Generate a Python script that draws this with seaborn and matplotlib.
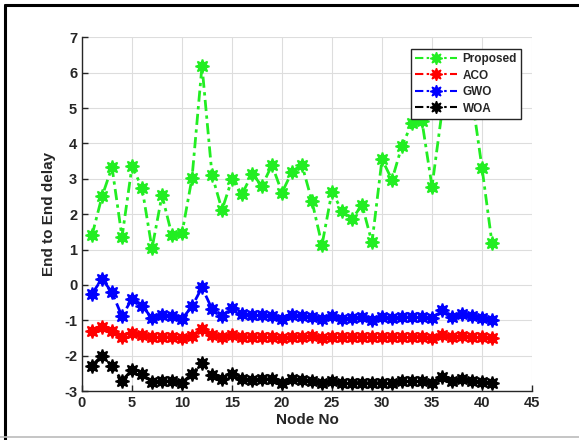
import numpy as np
import pandas as pd
import matplotlib
matplotlib.use("Agg")
import matplotlib.pyplot as plt
import seaborn as sns
from matplotlib.lines import Line2D

nodes = list(range(1, 42))
proposed = [1.40, 2.50, 3.33, 1.35, 3.35, 2.75, 1.03, 2.53, 1.40, 1.46,
            3.02, 6.19, 3.11, 2.12, 2.99, 2.56, 3.14, 2.80, 3.39, 2.61,
            3.20, 3.39, 2.36, 1.13, 2.64, 2.09, 1.86, 2.26, 1.20, 3.55,
            2.97, 3.94, 4.57, 4.62, 2.78, 4.90, 5.70, 6.00, 5.30, 3.31, 1.18]
aco = [-1.29, -1.19, -1.29, -1.47, -1.36, -1.41, -1.47, -1.47, -1.47, -1.50,
       -1.44, -1.25, -1.41, -1.47, -1.41, -1.46, -1.47, -1.47, -1.46, -1.50,
       -1.46, -1.46, -1.45, -1.50, -1.46, -1.47, -1.47, -1.47, -1.48, -1.47,
       -1.47, -1.46, -1.46, -1.46, -1.49, -1.43, -1.47, -1.45, -1.47, -1.47, -1.50]
gwo = [-0.25, 0.17, -0.21, -0.89, -0.39, -0.59, -0.94, -0.85, -0.89, -0.96,
       -0.61, -0.07, -0.68, -0.87, -0.66, -0.82, -0.86, -0.86, -0.87, -0.97,
       -0.86, -0.87, -0.92, -0.97, -0.89, -0.97, -0.94, -0.92, -0.99, -0.92,
       -0.94, -0.91, -0.91, -0.92, -0.95, -0.72, -0.91, -0.82, -0.89, -0.94, -0.99]
woa = [-2.28, -2.00, -2.28, -2.71, -2.40, -2.51, -2.75, -2.71, -2.73, -2.76,
       -2.52, -2.21, -2.54, -2.66, -2.51, -2.66, -2.68, -2.66, -2.66, -2.78,
       -2.66, -2.68, -2.73, -2.78, -2.73, -2.78, -2.76, -2.76, -2.78, -2.76,
       -2.76, -2.73, -2.73, -2.73, -2.76, -2.60, -2.71, -2.65, -2.71, -2.75, -2.78]
series_names = ["Proposed", "ACO", "GWO", "WOA"]
colors = ["#22ee22", "#ff0000", "#0000ff", "#000000"]

df = pd.concat([
    pd.DataFrame({"Node No": nodes, "delay": vals, "Method": name})
    for name, vals in zip(series_names, [proposed, aco, gwo, woa])
])

sns.set_style("white")
plt.rcParams['font.family'] = ['Liberation Sans', 'DejaVu Sans']
plt.rcParams['font.weight'] = 'bold'
plt.rcParams['axes.unicode_minus'] = False

fig = plt.figure(figsize=(5.79, 4.40), dpi=100)
ax = fig.add_axes([82/579, 1 - 391/440, (532-82)/579, (391-37.3)/440])

dash = (0, (4, 1.6, 1.2, 1.6))
sns.lineplot(data=df, x="Node No", y="delay", hue="Method", hue_order=series_names,
             palette=colors, ax=ax, legend=False, linewidth=2.0,
             marker=(8, 1, 0), markersize=10, markeredgewidth=1.2)
for ln in ax.lines:
    ln.set_linestyle(dash)
    ln.set_markeredgecolor(ln.get_color())

ax.set_xlim(0, 45)
ax.set_ylim(-3, 7)
ax.set_xticks(range(0, 46, 5))
ax.set_yticks(range(-3, 8))
ax.grid(True, color="#dddddd", linewidth=0.8)
for s in ["top", "right"]:
    ax.spines[s].set_visible(False)
for s in ["left", "bottom"]:
    ax.spines[s].set_color("#262626")
    ax.spines[s].set_linewidth(1.0)
ax.tick_params(direction="in", length=4, colors="#262626", labelsize=10.5,
               left=True, bottom=True, width=1.0)
for lab in ax.get_xticklabels() + ax.get_yticklabels():
    lab.set_fontweight("bold")
ax.set_xlabel("Node No", fontsize=11, fontweight="bold", color="#262626", labelpad=2)
ax.set_ylabel("End to End delay", fontsize=11, fontweight="bold", color="#262626", labelpad=6)

handles = [Line2D([], [], color=c, linestyle=dash, linewidth=1.5,
                  marker=(8, 1, 0), markersize=9, markeredgecolor=c)
           for c in colors]
leg = ax.legend(handles, series_names, loc="upper right",
                bbox_to_anchor=((521 - 82) / 450, (391 - 49) / 353.7),
                frameon=True, fancybox=False, edgecolor="#262626", framealpha=1,
                handlelength=3.5, fontsize=8.5, borderpad=0.35, labelspacing=0.38,
                handletextpad=0.5, borderaxespad=0)
leg.get_frame().set_linewidth(1.0)
leg.set_zorder(10)
for t in leg.get_texts():
    t.set_fontweight("bold")
    t.set_color("#262626")

fig.add_artist(Line2D([5/579, 5/579], [0, 1 - 5/440], color="black", linewidth=2.2,
                      transform=fig.transFigure))
fig.add_artist(Line2D([5/579, 1], [1 - 5/440, 1 - 5/440], color="black", linewidth=2.2,
                      transform=fig.transFigure))
fig.add_artist(Line2D([0, 1], [1 - 437/440, 1 - 437/440], color="#bbbbbb", linewidth=1.2,
                      transform=fig.transFigure))

fig.savefig("out.png", dpi=100)
